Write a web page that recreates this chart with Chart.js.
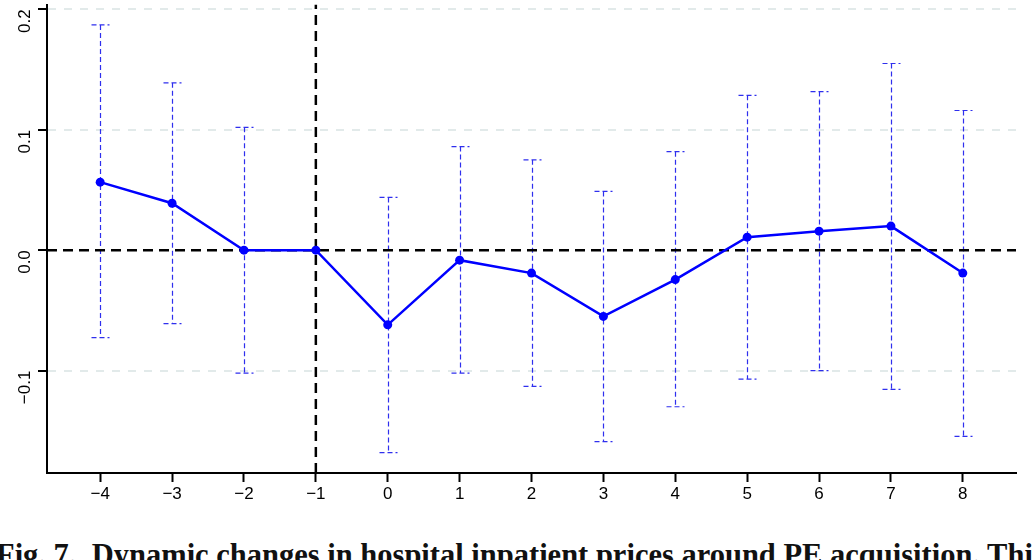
<!DOCTYPE html>
<html>
<head>
<meta charset="utf-8">
<script src="https://cdn.jsdelivr.net/npm/chart.js@4"></script>
<style>
  html, body { margin: 0; padding: 0; background: #fff; }
  #wrap { position: relative; width: 1033px; height: 560px; overflow: hidden; }
  #plot { position: absolute; left: 0; top: 0; width: 1033px; height: 510px; }
  #caption {
    position: absolute; left: -4px; top: 540px; white-space: nowrap;
    font-family: "Liberation Serif", "DejaVu Serif", serif; font-weight: bold;
    font-size: 30.5px; line-height: 31px; color: #111;
  }
</style>
</head>
<body>
<div id="wrap">
  <div id="plot"><canvas id="myChart"></canvas></div>
  <div id="caption">Fig. 7.&nbsp; Dynamic changes in hospital inpatient prices around PE acquisition. This</div>
</div>
<script>
// event time (years relative to acquisition)
const periods = [-4, -3, -2, -1, 0, 1, 2, 3, 4, 5, 6, 7, 8];
// point estimates
const estimates = [0.0565, 0.039, 0, 0, -0.062, -0.0083, -0.019, -0.055, -0.0244, 0.0108, 0.0158, 0.020, -0.019];
// confidence interval bounds (none for the reference year -1)
const upper = [0.187, 0.139, 0.102, null, 0.0438, 0.086, 0.075, 0.0488, 0.0818, 0.1286, 0.1317, 0.155, 0.116];
const lower = [-0.0726, -0.061, -0.102, null, -0.168, -0.102, -0.113, -0.159, -0.130, -0.107, -0.100, -0.1155, -0.1546];
const yTicks = [-0.1, 0.0, 0.1, 0.2];
const xMin = -4.74, xMax = 8.74;
const yMin = -0.185, yMax = 0.204;

const minus = (s, v) => (v < 0 ? "\u2212" : "") + s;

// dashed confidence intervals with caps
const errorBars = {
  id: "errorBars",
  beforeDatasetsDraw(chart) {
    const { ctx, scales: { x, y } } = chart;
    ctx.save();
    ctx.strokeStyle = "rgba(10,10,235,0.85)";
    ctx.lineWidth = 1.2;
    ctx.setLineDash([5, 3]);
    periods.forEach((p, i) => {
      if (upper[i] == null) return;
      const px = Math.round(x.getPixelForValue(p)) + 0.5;
      const top = y.getPixelForValue(upper[i]);
      const bot = y.getPixelForValue(lower[i]);
      ctx.beginPath();
      ctx.moveTo(px, top);
      ctx.lineTo(px, bot);
      ctx.moveTo(px - 9, top);
      ctx.lineTo(px + 9, top);
      ctx.moveTo(px - 9, bot);
      ctx.lineTo(px + 9, bot);
      ctx.stroke();
    });
    ctx.restore();
  }
};

const ctx = document.getElementById("myChart").getContext("2d");
new Chart(ctx, {
  type: "line",
  data: {
    datasets: [
      {
        label: "Estimate",
        data: periods.map((p, i) => ({ x: p, y: estimates[i] })),
        borderColor: "#0000ff",
        backgroundColor: "#0000ff",
        borderWidth: 2.5,
        pointRadius: 4.5,
        pointBorderWidth: 0,
        tension: 0,
        order: 0,
      },
      {
        label: "zero",
        data: [{ x: xMin, y: 0 }, { x: xMax, y: 0 }],
        borderColor: "#000",
        borderWidth: 2.5,
        borderDash: [10, 6],
        pointRadius: 0,
        order: 1,
      },
      {
        label: "event",
        data: [{ x: -1, y: yMin }, { x: -1, y: yMax }],
        borderColor: "#000",
        borderWidth: 2.5,
        borderDash: [10, 6],
        pointRadius: 0,
        order: 1,
      },
    ],
  },
  options: {
    responsive: true,
    maintainAspectRatio: false,
    animation: false,
    layout: { padding: { top: 4, right: 17, left: 0, bottom: 0 } },
    plugins: { legend: { display: false }, tooltip: { enabled: false } },
    scales: {
      x: {
        type: "linear",
        min: xMin,
        max: xMax,
        afterBuildTicks: (scale) => { scale.ticks = periods.map((v) => ({ value: v })); },
        afterFit: (scale) => { scale.height = 37; scale.paddingLeft = 0; scale.paddingRight = 0; },
        ticks: {
          callback: (v) => minus(String(Math.abs(v)), v),
          color: "#000",
          font: { family: "Liberation Sans", size: 17 },
          padding: 2,
          maxRotation: 0,
          autoSkip: false,
        },
        grid: { drawOnChartArea: false, tickLength: 9, tickColor: "#000", tickWidth: 2 },
        border: { color: "#000", width: 2 },
      },
      y: {
        min: yMin,
        max: yMax,
        afterBuildTicks: (scale) => { scale.ticks = yTicks.map((v) => ({ value: v })); },
        afterFit: (scale) => { scale.width = 47; scale.paddingTop = 0; scale.paddingBottom = 0; },
        ticks: {
          callback: (v) => minus(Math.abs(v).toFixed(1), v),
          color: "#000",
          font: { family: "Liberation Sans", size: 17 },
          minRotation: 90,
          maxRotation: 90,
          crossAlign: "near",
          padding: 13,
        },
        grid: {
          color: (c) => (c.tick && c.tick.value === 0 ? "rgba(0,0,0,0)" : "#e2eaea"),
          lineWidth: 2,
          tickLength: 9,
          tickColor: "#000",
          tickWidth: 2,
        },
        border: { color: "#000", width: 2, dash: [8, 8] },
      },
    },
  },
  plugins: [errorBars],
});
</script>
</body>
</html>
